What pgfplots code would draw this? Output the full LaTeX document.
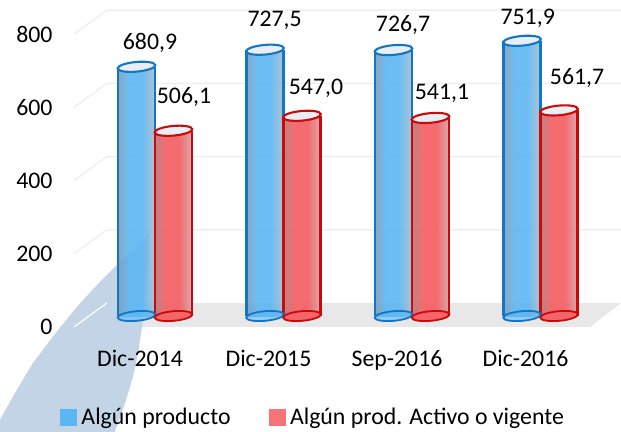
\documentclass[border=0pt]{standalone}
\usepackage{fontspec}
\setmainfont{Carlito}
\usepackage{pgfplots}
\usepackage{pgfplotstable}
\pgfplotsset{compat=1.18}
\usetikzlibrary{plotmarks}
\newcommand{\lbl}{\fontsize{23.8}{28}\selectfont}
\definecolor{bluefill}{HTML}{5CB6F2}
\definecolor{blueedgeL}{HTML}{7F9DBA}
\definecolor{blueedgeR}{HTML}{A9BCCD}
\definecolor{blueline}{HTML}{1276C6}
\definecolor{redfill}{HTML}{F46468}
\definecolor{rededgeL}{HTML}{B87C7E}
\definecolor{rededgeR}{HTML}{D4A6A8}
\definecolor{redline}{HTML}{C80A0A}
\definecolor{capfill}{HTML}{E9EEF4}
\definecolor{gridc}{HTML}{EFEFEF}
\definecolor{floorc}{HTML}{E8E8E8}
\definecolor{swoosh}{HTML}{C3D4E6}
\pgfdeclarehorizontalshading{cylblue}{100bp}{color(0bp)=(blueedgeL);color(25bp)=(blueedgeL);color(39bp)=(bluefill);color(58bp)=(bluefill);color(75bp)=(blueedgeR);color(100bp)=(blueedgeR)}
\pgfdeclarehorizontalshading{cylred}{100bp}{color(0bp)=(rededgeL);color(25bp)=(rededgeL);color(39bp)=(redfill);color(58bp)=(redfill);color(75bp)=(rededgeR);color(100bp)=(rededgeR)}
\pgfdeclareplotmark{cyl}{%
  \pgfpathellipse{\pgfpointorigin}{\pgfqpoint{18.8pt}{1.7pt}}{\pgfqpoint{-0.5pt}{4.8pt}}%
  \pgfusepathqfillstroke}
\pgfplotstableread{
x blue red base
0 680.9 506.1 0
1 727.5 547.0 0
2 726.7 541.1 0
3 751.9 561.7 0
}\datatab
\pgfplotsset{
  bluebar/.style={forget plot,ybar,bar width=37pt,bar shift=-18.5pt,draw=none,fill opacity=0.9,shading=cylblue},
  redbar/.style={forget plot,ybar,bar width=37pt,bar shift=18.5pt,draw=none,fill opacity=0.95,shading=cylred},
}
\begin{document}
\begin{tikzpicture}[x=1pt,y=1pt]
\clip (0,0) rectangle (621,431);
\begin{axis}[
  at={(60pt,86pt)}, anchor=south west,
  scale only axis, width=561pt, height=345pt,
  xmin=-0.739, xmax=3.626, ymin=-79.2, ymax=863.4,
  clip=false,
  axis on top,
  axis line style={draw=none},
  major tick length=0pt,
  xtick={0,1,2,3},
  xticklabels={Dic-2014,Dic-2015,Sep-2016,Dic-2016},
  ytick={-30,170,370,570,770},
  yticklabels={0,200,400,600,800},
  tick label style={font=\lbl},
  xticklabel style={yshift=-2pt,xshift=-15pt},
  yticklabel style={xshift=-4pt},
  legend style={at={(axis cs:-0.74,-277)},anchor=west,draw=none,fill=none,
    legend columns=2,font=\lbl,inner sep=0pt,
    /tikz/every odd column/.append style={column sep=3pt},
    /tikz/every even column/.append style={column sep=36pt}},
  legend cell align=left,
]
% floor and back wall
\addplot[forget plot,draw=none,fill=floorc] coordinates {(-0.63,-30) (-0.374,35.5) (3.626,35.5) (3.385,-30)} --cycle;
\addplot[forget plot,gridc,line width=1.5pt] coordinates {(-0.63,170) (-0.374,235.5) (3.626,235.5)};
\addplot[forget plot,gridc,line width=1.5pt] coordinates {(-0.63,370) (-0.374,435.5) (3.626,435.5)};
\addplot[forget plot,gridc,line width=1.5pt] coordinates {(-0.63,570) (-0.374,635.5) (3.626,635.5)};
\addplot[forget plot,gridc,line width=1.5pt] coordinates {(-0.63,770) (-0.374,835.5) (3.626,835.5)};
% watermark swoosh
\addplot[forget plot,draw=none,fill=swoosh] coordinates
  {(-0.039,227) (-0.179,178) (-0.335,126) (-0.467,79) (-0.607,25) (-0.778,-49) (-0.949,-128) (-1.089,-210) (-1.206,-284) (-1.323,-366)
   (-0.35,-352) (-0.311,-314) (-0.233,-238) (-0.171,-167) (-0.125,-87) (-0.093,-11) (-0.062,98) (-0.047,180)} --cycle;
\addplot[forget plot,white,line width=1.2pt] coordinates {(-0.63,-30) (-0.374,35.5)};
% blue cylinders, one plot per bar so each gets its own shading
\addplot[bluebar] coordinates {(0,680.9)};
\addplot[bluebar] coordinates {(1,727.5)};
\addplot[bluebar] coordinates {(2,726.7)};
\addplot[bluebar] coordinates {(3,751.9)};
\addplot[forget plot,ycomb,blueline,line width=2.1pt,xshift=-37pt,mark=none] table[x=x,y=blue] {\datatab};
\addplot[forget plot,ycomb,blueline,line width=2.1pt,xshift=0pt,mark=none] table[x=x,y=blue] {\datatab};
\addplot[forget plot,only marks,xshift=-18.5pt,mark=cyl,mark options={draw=blueline,fill=bluefill,fill opacity=0.6,line width=1.8pt}]
  table[x=x,y=base] {\datatab};
\addplot[forget plot,only marks,xshift=-18.5pt,mark=cyl,mark options={draw=blueline,fill=capfill,line width=2.1pt}]
  table[x=x,y=blue] {\datatab};
% red cylinders
\addplot[redbar] coordinates {(0,506.1)};
\addplot[redbar] coordinates {(1,547.0)};
\addplot[redbar] coordinates {(2,541.1)};
\addplot[redbar] coordinates {(3,561.7)};
\addplot[forget plot,ycomb,redline,line width=2.1pt,xshift=0pt,mark=none] table[x=x,y=red] {\datatab};
\addplot[forget plot,ycomb,redline,line width=2.1pt,xshift=37pt,mark=none] table[x=x,y=red] {\datatab};
\addplot[forget plot,only marks,xshift=18.5pt,mark=cyl,mark options={draw=redline,fill=redfill,line width=1.8pt}]
  table[x=x,y=base] {\datatab};
\addplot[forget plot,only marks,xshift=18.5pt,mark=cyl,mark options={draw=redline,fill=capfill,line width=2.1pt}]
  table[x=x,y=red] {\datatab};
% value labels
\node[font=\lbl] at (axis cs:-0.039,746) {680,9};
\node[font=\lbl] at (axis cs:0.931,808) {727,5};
\node[font=\lbl] at (axis cs:1.93,795) {726,7};
\node[font=\lbl] at (axis cs:2.90,814) {751,9};
\node[font=\lbl] at (axis cs:0.226,598) {506,1};
\node[font=\lbl] at (axis cs:1.253,623) {547,0};
\node[font=\lbl] at (axis cs:2.233,609) {541,1};
\node[font=\lbl] at (axis cs:3.284,650) {561,7};
% legend
\addlegendimage{legend image code/.code={\fill[bluefill] (0pt,-8pt) rectangle (16pt,8pt);}}
\addlegendentry{Algún producto}
\addlegendimage{legend image code/.code={\fill[redfill!90!white] (0pt,-8pt) rectangle (16pt,8pt);}}
\addlegendentry{Algún prod. Activo o vigente}
\end{axis}
\end{tikzpicture}
\end{document}
